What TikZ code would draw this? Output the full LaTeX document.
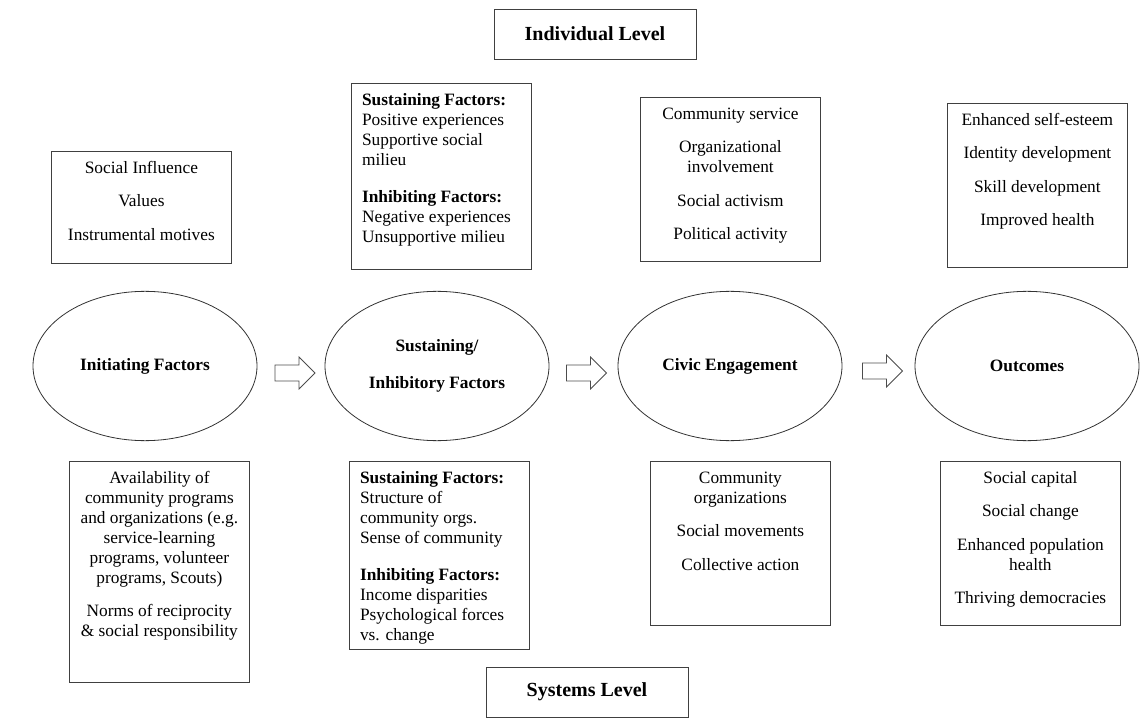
\documentclass[tikz,border=0pt]{standalone}
\usepackage{fontspec}
\setmainfont{Liberation Serif}
\usetikzlibrary{shapes.geometric,calc}

\newcommand{\cardtext}[2]{\parbox[t][#1][t]{119pt}{\strut #2}}

\begin{document}
\begin{tikzpicture}[x=0.75pt,y=-0.75pt,
  card/.style={draw=black!75,line width=0.6pt,inner xsep=8pt,inner ysep=6pt,anchor=north west,font=\fontsize{13}{15}\selectfont},
  level/.style={draw=black!75,line width=0.6pt,minimum width=151.5pt,minimum height=37.5pt,font=\fontsize{15}{18}\selectfont\bfseries},
  stage/.style={ellipse,draw=black!80,line width=0.6pt,minimum width=168pt,minimum height=112pt,inner sep=0pt,align=center,font=\fontsize{13}{28}\selectfont\bfseries},
  flow/.style={draw=black!70,line width=0.6pt}]

\useasboundingbox (0,0) rectangle (1146,727);

\node[level] (indiv) at (595,34) {Individual Level};
\node[level] (syst) at (587,692) {Systems Level};

\node[stage] (init) at (145,366) {Initiating Factors};
\node[stage] (sust) at (437,366) {Sustaining/\\Inhibitory Factors};
\node[stage] (civic) at (730,366) {Civic Engagement};
\node[stage] (outc) at (1027,366) {Outcomes};

% individual level
\node[card] (ia) at (51,151) {\cardtext{72pt}{\centering Social Influence\\[10pt] Values\\[10pt] Instrumental motives}};
\node[card] (ib) at (351,83) {\cardtext{127.5pt}{\raggedright \textbf{Sustaining Factors:}\\ Positive experiences\\ Supportive social\\ milieu\\[13pt] \textbf{Inhibiting Factors:}\\ Negative experiences\\ Unsupportive milieu}};
\node[card] (ic) at (640,97) {\cardtext{111pt}{\centering Community service\\[10pt] Organizational\\ involvement\\[10pt] Social activism\\[10pt] Political activity}};
\node[card] (id) at (947,103) {\cardtext{111pt}{\centering Enhanced self-esteem\\[10pt] Identity development\\[10pt] Skill development\\[10pt] Improved health}};

% systems level
\node[card] (sa) at (69,461) {\cardtext{153.75pt}{\centering Availability of\\ community programs\\ and organizations (e.g.\\ service-learning\\ programs, volunteer\\ programs, Scouts)\\[10pt] Norms of reciprocity\\ \& social responsibility}};
\node[card] (sb) at (349,461) {\cardtext{129pt}{\raggedright \textbf{Sustaining Factors:}\\ Structure of\\ community orgs.\\ Sense of community\\[13pt] \textbf{Inhibiting Factors:}\\ Income disparities\\ Psychological forces\\ vs. change}};
\node[card] (sc) at (650,461) {\cardtext{111pt}{\centering Community\\ organizations\\[10pt] Social movements\\[10pt] Collective action}};
\node[card] (sd) at (940,461) {\cardtext{111pt}{\centering Social capital\\[10pt] Social change\\[10pt] Enhanced population\\ health\\[10pt] Thriving democracies}};

% block arrows between the stages
\draw[flow,shift={($(init.east)!.5!(sust.west)+(4,7)$)}] (-20,-8) -- (4,-8) -- (4,-16) -- (20,0) -- (4,16) -- (4,8) -- (-20,8) -- cycle;
\draw[flow,shift={($(sust.east)!.5!(civic.west)+(3,7)$)}] (-20,-8) -- (4,-8) -- (4,-16) -- (20,0) -- (4,16) -- (4,8) -- (-20,8) -- cycle;
\draw[flow,shift={($(civic.east)!.5!(outc.west)+(4,5)$)}] (-20,-8) -- (4,-8) -- (4,-16) -- (20,0) -- (4,16) -- (4,8) -- (-20,8) -- cycle;

\end{tikzpicture}
\end{document}
